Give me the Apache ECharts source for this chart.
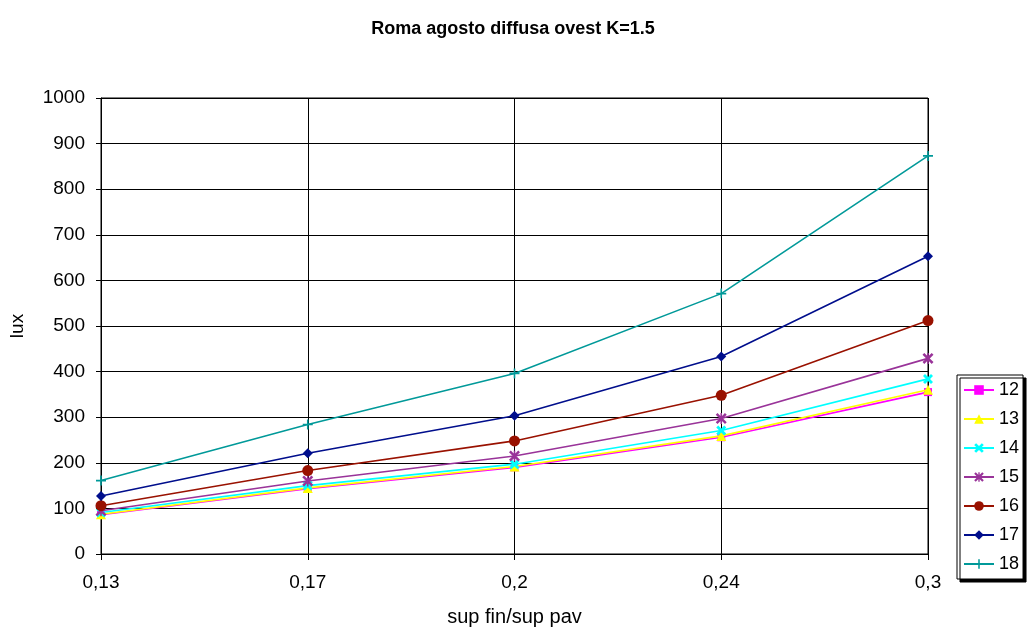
<!DOCTYPE html>
<html>
<head>
<meta charset="utf-8">
<script src="https://cdn.jsdelivr.net/npm/echarts@6/dist/echarts.min.js"></script>
<style>
html,body{margin:0;padding:0;background:#fff;}
#chart{width:1031px;height:632px;}
</style>
</head>
<body>
<div id="chart"></div>
<script>
// Ratio of window surface to floor surface
const categories = ['0,13', '0,17', '0,2', '0,24', '0,3'];
const seriesNames = ['12', '13', '14', '15', '16', '17', '18'];
const s12 = [86, 143, 190, 256, 355];
const s13 = [87, 145, 192, 259, 360];
const s14 = [91, 150, 197, 271, 384];
const s15 = [95, 160, 215, 297, 429];
const s16 = [106, 183, 248, 348, 512];
const s17 = [127, 221, 303, 433, 653];
const s18 = [161, 284, 396, 571, 873];
const yTicks = [0, 100, 200, 300, 400, 500, 600, 700, 800, 900, 1000];

const FONT = '"Liberation Sans", Arial, sans-serif';

// Marker shapes
const xMark = 'path://M0,2 L2,0 L5,3 L8,0 L10,2 L7,5 L10,8 L8,10 L5,7 L2,10 L0,8 L3,5 Z';
const plusMark = 'path://M4.2,0 H5.8 V4.2 H10 V5.8 H5.8 V10 H4.2 V5.8 H0 V4.2 H4.2 Z';
const starMark = 'path://M0,1.6 L1.6,0 L5,3.4 L8.4,0 L10,1.6 L6.6,5 L10,8.4 L8.4,10 L5,6.6 L1.6,10 L0,8.4 L3.4,5 Z M4.3,0 H5.7 V10 H4.3 Z';

const styles = [
  {data: s12, color: '#FF00FF', symbol: 'rect', size: 8},
  {data: s13, color: '#FFFF00', symbol: 'triangle', size: 10},
  {data: s14, color: '#00FFFF', symbol: xMark, size: 10},
  {data: s15, color: '#993399', symbol: starMark, size: 11},
  {data: s16, color: '#991100', symbol: 'circle', size: 11},
  {data: s17, color: '#000E8C', symbol: 'diamond', size: 10},
  {data: s18, color: '#009999', symbol: plusMark, size: 10}
];

const series = styles.map((st, i) => ({
  name: seriesNames[i],
  type: 'line',
  data: st.data,
  symbol: st.symbol,
  symbolSize: st.size,
  showAllSymbol: true,
  lineStyle: {color: st.color, width: 1.6},
  itemStyle: {color: st.color, borderWidth: 0},
  emphasis: {disabled: true},
  z: 10 + i
}));

const chart = echarts.init(document.getElementById('chart'));
chart.setOption({
  animation: false,
  backgroundColor: '#fff',
  title: {
    text: 'Roma agosto diffusa ovest K=1.5',
    left: 508,
    textAlign: 'center',
    top: 15,
    textStyle: {fontFamily: FONT, fontSize: 18, fontWeight: 'bold', color: '#000'}
  },
  grid: {left: 99, right: 103, top: 98, bottom: 76, show: true, borderColor: '#000', borderWidth: 1, backgroundColor: 'transparent'},
  legend: {
    orient: 'vertical',
    left: 957,
    top: 375,
    width: 64,
    padding: [6, 4, 6, 6],
    itemWidth: 30,
    itemHeight: 12,
    itemGap: 11,
    borderColor: '#000',
    borderWidth: 1,
    backgroundColor: '#fff',
    shadowColor: '#000',
    shadowOffsetX: 3,
    shadowOffsetY: 3,
    shadowBlur: 0,
    textStyle: {fontFamily: FONT, fontSize: 18, color: '#000'},
    data: seriesNames
  },
  xAxis: {
    type: 'category',
    data: categories,
    boundaryGap: false,
    name: 'sup fin/sup pav',
    nameLocation: 'middle',
    nameGap: 53,
    nameTextStyle: {fontFamily: FONT, fontSize: 20, color: '#000'},
    axisLine: {lineStyle: {color: '#000', width: 1}},
    axisTick: {show: true, length: 6, lineStyle: {color: '#000'}},
    axisLabel: {fontFamily: FONT, fontSize: 19, color: '#000', margin: 19},
    splitLine: {show: true, lineStyle: {color: '#000', width: 1}}
  },
  yAxis: {
    type: 'value',
    min: yTicks[0],
    max: yTicks[yTicks.length - 1],
    interval: 100,
    name: 'lux',
    nameLocation: 'middle',
    nameGap: 74,
    nameRotate: 90,
    nameTextStyle: {fontFamily: FONT, fontSize: 19, color: '#000'},
    axisLine: {show: true, lineStyle: {color: '#000', width: 1}},
    axisTick: {show: true, length: 5, lineStyle: {color: '#000'}},
    axisLabel: {fontFamily: FONT, fontSize: 19, color: '#000', margin: 16, formatter: v => String(v)},
    splitLine: {show: true, lineStyle: {color: '#000', width: 1}}
  },
  series: series
});
</script>
</body>
</html>
